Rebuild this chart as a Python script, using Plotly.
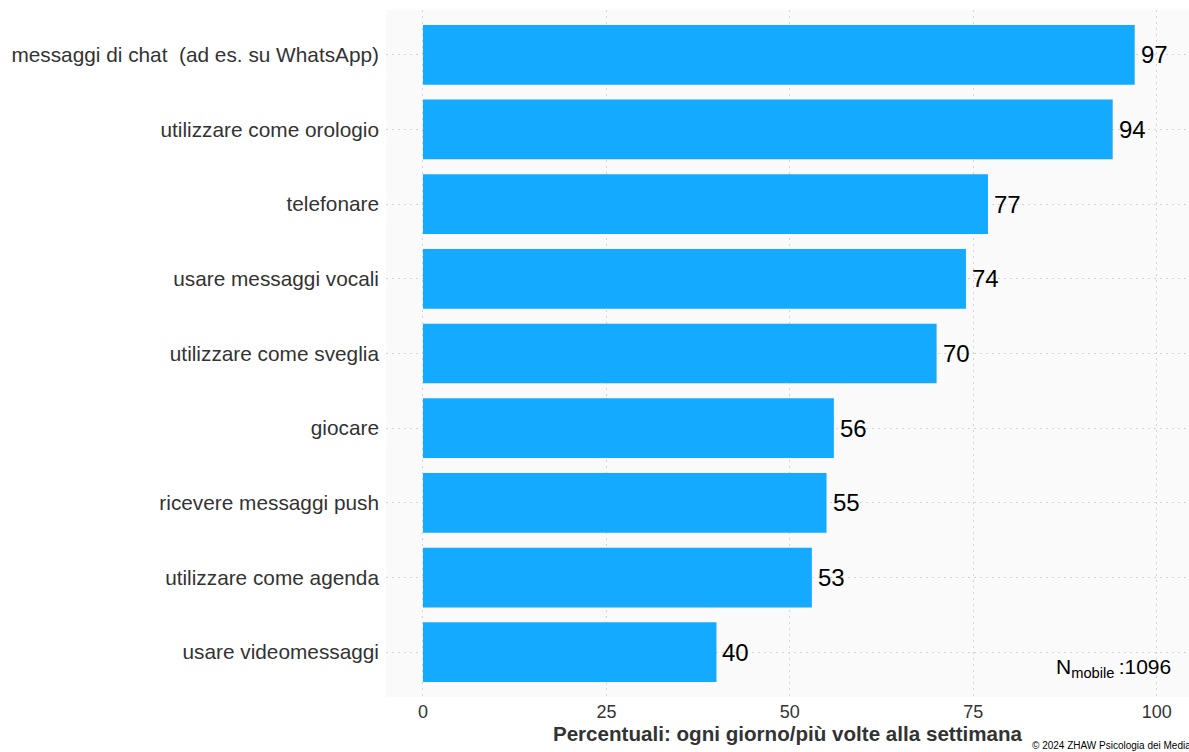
import plotly.graph_objects as go

# Usage categories (top to bottom) and share of daily / several-times-a-week use
categories = [
    "messaggi di chat  (ad es. su WhatsApp)",
    "utilizzare come orologio",
    "telefonare",
    "usare messaggi vocali",
    "utilizzare come sveglia",
    "giocare",
    "ricevere messaggi push",
    "utilizzare come agenda",
    "usare videomessaggi",
]
values = [97, 94, 77, 74, 70, 56, 55, 53, 40]
x_ticks = [0, 25, 50, 75, 100]
n_mobile = 1096

BAR_COLOR = "#13AAFF"
FONT = "Liberation Sans, Arial, sans-serif"
GRID = dict(showgrid=True, gridcolor="#D4D4D4", griddash="2px,4px", gridwidth=1)

fig = go.Figure()
fig.add_trace(go.Bar(
    y=categories,
    x=values,
    orientation="h",
    marker=dict(color=BAR_COLOR, line=dict(width=0)),
    hoverinfo="skip",
))

# value labels just right of each bar end
for cat, v in zip(categories, values):
    fig.add_annotation(
        x=v, y=cat, xref="x", yref="y",
        xanchor="left", yanchor="middle",
        xshift=4,
        text=str(v),
        showarrow=False,
        font=dict(family=FONT, size=24, color="#000000"),
    )

fig.update_layout(
    width=1189,
    height=752,
    margin=dict(l=386, r=0, t=10, b=55),
    paper_bgcolor="#FFFFFF",
    plot_bgcolor="#FAFAFA",
    bargap=0.2,
    showlegend=False,
    font=dict(family=FONT, color="#333333"),
    xaxis=dict(
        range=[-5.04, 104.4],
        tickvals=x_ticks,
        ticktext=[str(t) for t in x_ticks],
        tickfont=dict(size=18, color="#333333"),
        zeroline=False,
        showline=False,
        ticks="",
        ticklabelstandoff=2,
        title=dict(
            text="<b>Percentuali: ogni giorno/più volte alla settimana</b>",
            font=dict(size=20.6, color="#333333"),
            standoff=0,
        ),
        **GRID,
    ),
    yaxis=dict(
        categoryorder="array",
        categoryarray=categories,
        autorange=False,
        range=[8.6, -0.6],
        tickfont=dict(size=20.8, color="#333333"),
        zeroline=False,
        showline=False,
        ticks="",
        ticklabelstandoff=6,
        **GRID,
    ),
)

fig.add_annotation(
    x=1.0, y=0.0, xref="paper", yref="paper",
    xanchor="right", yanchor="bottom",
    xshift=-16, yshift=14,
    text=f"N<sub>mobile</sub>\u2009:{n_mobile}",
    showarrow=False,
    font=dict(family=FONT, size=21, color="#000000"),
)

fig.add_annotation(
    x=1.0, y=0.0, xref="paper", yref="paper",
    xanchor="left", yanchor="bottom",
    xshift=-159, yshift=-56,
    text="© 2024 ZHAW Psicologia dei Media",
    showarrow=False,
    font=dict(family=FONT, size=10, color="#000000"),
)

fig.write_html("out.html")
